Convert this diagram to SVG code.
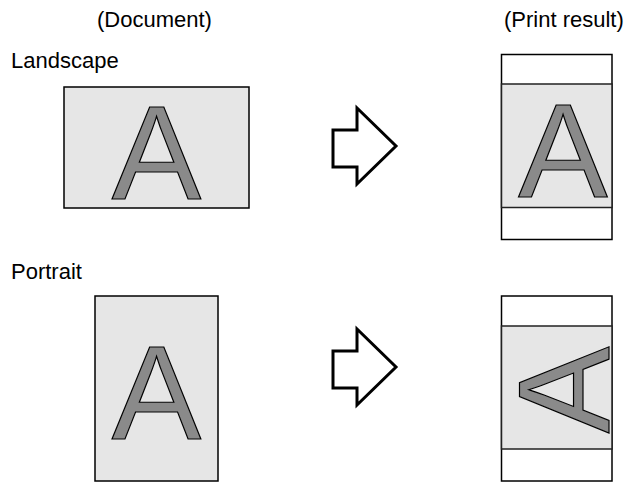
<svg xmlns="http://www.w3.org/2000/svg" width="626" height="483" viewBox="0 0 626 483">
<style>
.lbl{font-family:"Liberation Sans",Arial,sans-serif;font-size:22px;fill:#000}
.page{fill:#e6e6e6;stroke:#000;stroke-width:1.5}
.paper{fill:#fff;stroke:#000;stroke-width:1.5}
.band{fill:#e6e6e6;stroke:#222;stroke-width:1.5}
.A{font-family:"Liberation Sans",Arial,sans-serif;font-size:134px;fill:#8a8a8a;stroke:#000;stroke-width:1.2;text-anchor:middle}
.arrow{fill:#fff;stroke:#000;stroke-width:3;stroke-linejoin:miter}
</style>
<rect width="626" height="483" fill="#fff"/>
<g id="labels">
<text class="lbl" x="97" y="27">(Document)</text>
<text class="lbl" x="504" y="27">(Print result)</text>
<text class="lbl" x="11" y="68">Landscape</text>
<text class="lbl" x="11" y="279">Portrait</text>
</g>
<g id="doc-landscape">
<rect class="page" x="64" y="87" width="185" height="121"/>
<text class="A" x="156.5" y="199">A</text>
</g>
<g id="result-landscape">
<rect class="paper" x="501.5" y="54.5" width="110.5" height="185"/>
<rect class="band" x="501.5" y="84" width="110.5" height="123.5"/>
<text class="A" x="563" y="197">A</text>
</g>
<g id="doc-portrait">
<rect class="page" x="95" y="296" width="123" height="185"/>
<text class="A" x="156.5" y="439">A</text>
</g>
<g id="result-portrait">
<rect class="paper" x="501.5" y="296" width="110.5" height="185"/>
<rect class="band" x="501.5" y="326" width="110.5" height="123"/>
<g transform="translate(562,390) rotate(-90)">
<text class="A" x="0" y="47" style="font-size:130px">A</text>
</g>
</g>
<g id="connectors">
<polygon class="arrow" points="333,130 357,130 357,108 396,146 357,184 357,167 333,167"/>
<polygon class="arrow" points="333,351 357,351 357,329 396,367 357,405 357,388 333,388"/>
</g>
</svg>
